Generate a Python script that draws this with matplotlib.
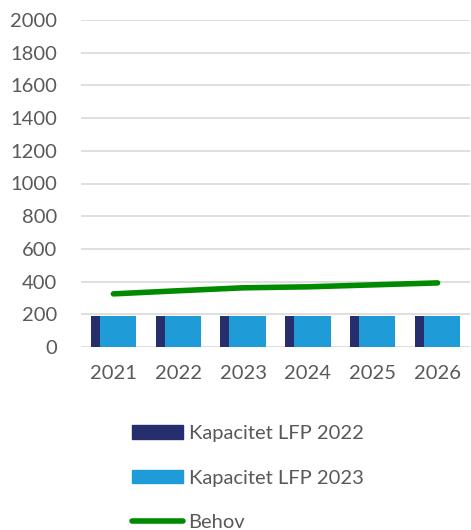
import numpy as np
import matplotlib.pyplot as plt
from matplotlib.patches import Patch
from matplotlib.lines import Line2D

years = ['2021', '2022', '2023', '2024', '2025', '2026']
kap_2022 = [190, 190, 190, 190, 190, 190]
kap_2023 = [190, 190, 190, 190, 190, 190]
behov = [325, 344, 362, 368, 380, 392]

navy = '#262e6e'
lblue = '#1f9bd7'
green = '#008a00'
txt = '#595959'

plt.rcParams['font.family'] = ['Lato', 'DejaVu Sans']

fig = plt.figure(figsize=(4.71, 5.30), dpi=100)
ax = fig.add_axes([81 / 471, 1 - 347 / 530, 389 / 471, 327 / 530])

x = np.arange(len(years))
w = 0.56
off = 0.07
ax.bar(x - off, kap_2022, width=w, color=navy, zorder=2)
ax.bar(x + off, kap_2023, width=w, color=lblue, zorder=3)
ax.plot(x, behov, color=green, lw=4, solid_capstyle='round', zorder=4)

ax.set_xlim(-0.5, len(years) - 0.5)
ax.set_ylim(0, 2000)
ax.set_yticks(range(0, 2001, 200))
ax.set_xticks(x)
ax.set_xticklabels(years)
ax.grid(axis='y', color='#d9d9d9', lw=1.2, zorder=0)
ax.set_axisbelow(True)
for s in ax.spines.values():
    s.set_visible(False)
ax.tick_params(length=0, labelsize=14.5, colors=txt)
ax.tick_params(axis='y', pad=17)
ax.tick_params(axis='x', pad=13)

handles = [Patch(color=navy), Patch(color=lblue),
           Line2D([0], [0], color=green, lw=4, solid_capstyle='round')]
labels = ['Kapacitet LFP 2022', 'Kapacitet LFP 2023', 'Behov']
leg = fig.legend(handles, labels, loc='upper left', bbox_to_anchor=(114 / 471, 1 - 407 / 530),
                 frameon=False, fontsize=14.5, labelcolor=txt, handlelength=2.55,
                 handleheight=0.65, handletextpad=0.25, labelspacing=1.37)

fig.savefig('out.png', dpi=100)
